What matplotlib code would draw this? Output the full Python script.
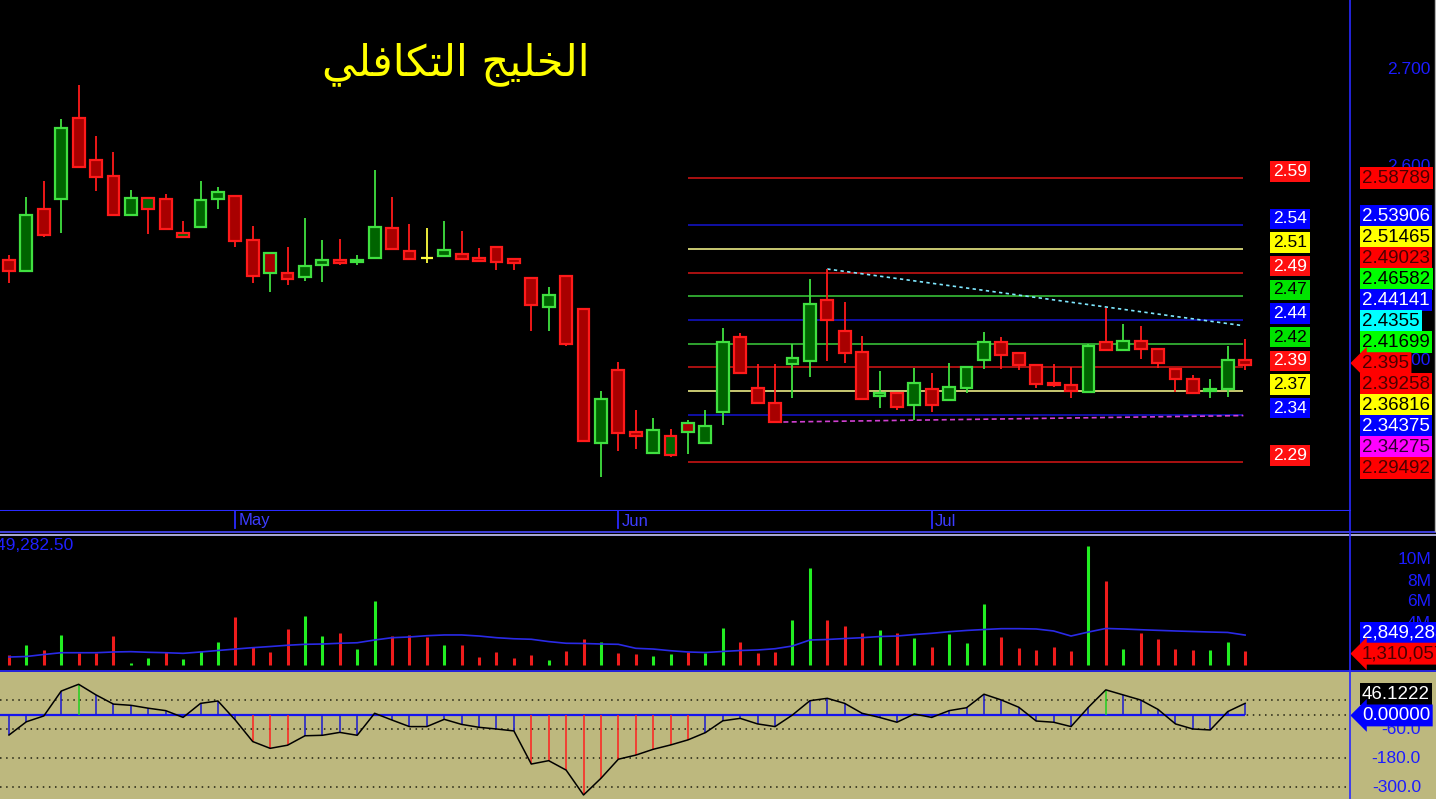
import numpy as np
import matplotlib
matplotlib.use('Agg')
import matplotlib.pyplot as plt
from matplotlib.lines import Line2D
from matplotlib.transforms import blended_transform_factory as blend

plt.rcParams['font.family'] = ['Liberation Sans', 'DejaVu Sans']

# ---- values (72 daily bars) ----
opens = [2.503, 2.492, 2.556, 2.566, 2.650, 2.607, 2.590, 2.550, 2.556, 2.566,
         2.527, 2.537, 2.566, 2.569, 2.524, 2.511, 2.490, 2.486, 2.498, 2.503,
         2.501, 2.505, 2.536, 2.513, 2.505, 2.507, 2.510, 2.505, 2.517, 2.504,
         2.485, 2.455, 2.487, 2.453, 2.314, 2.390, 2.326, 2.304, 2.302, 2.335,
         2.314, 2.346, 2.424, 2.371, 2.356, 2.396, 2.399, 2.462, 2.430, 2.408,
         2.363, 2.366, 2.354, 2.370, 2.359, 2.371, 2.400, 2.419, 2.407, 2.395,
         2.376, 2.374, 2.367, 2.419, 2.410, 2.420, 2.411, 2.391, 2.381, 2.368,
         2.370, 2.400]
highs = [2.508, 2.568, 2.585, 2.649, 2.684, 2.631, 2.615, 2.576, 2.567, 2.571,
         2.544, 2.585, 2.579, 2.569, 2.538, 2.511, 2.517, 2.547, 2.524, 2.525,
         2.508, 2.596, 2.568, 2.540, 2.536, 2.544, 2.533, 2.516, 2.517, 2.504,
         2.485, 2.475, 2.487, 2.453, 2.368, 2.398, 2.349, 2.340, 2.329, 2.338,
         2.349, 2.433, 2.428, 2.396, 2.396, 2.417, 2.484, 2.494, 2.460, 2.425,
         2.389, 2.366, 2.392, 2.387, 2.397, 2.393, 2.429, 2.424, 2.407, 2.395,
         2.396, 2.393, 2.417, 2.454, 2.437, 2.435, 2.411, 2.391, 2.385, 2.380,
         2.415, 2.422]
lows = [2.480, 2.492, 2.527, 2.531, 2.599, 2.574, 2.550, 2.550, 2.530, 2.535,
        2.527, 2.537, 2.556, 2.517, 2.480, 2.470, 2.478, 2.482, 2.481, 2.498,
        2.498, 2.505, 2.514, 2.504, 2.500, 2.507, 2.504, 2.502, 2.493, 2.493,
        2.430, 2.430, 2.415, 2.316, 2.279, 2.306, 2.308, 2.304, 2.300, 2.303,
        2.314, 2.333, 2.387, 2.356, 2.336, 2.361, 2.383, 2.399, 2.397, 2.360,
        2.351, 2.349, 2.338, 2.346, 2.359, 2.366, 2.391, 2.391, 2.390, 2.371,
        2.372, 2.361, 2.367, 2.410, 2.410, 2.401, 2.392, 2.367, 2.366, 2.361,
        2.362, 2.390]
closes = [2.492, 2.550, 2.529, 2.640, 2.599, 2.589, 2.550, 2.567, 2.567, 2.535,
          2.531, 2.565, 2.573, 2.523, 2.487, 2.490, 2.484, 2.497, 2.503, 2.500,
          2.503, 2.537, 2.515, 2.504, 2.505, 2.514, 2.504, 2.502, 2.501, 2.500,
          2.457, 2.467, 2.417, 2.316, 2.360, 2.325, 2.322, 2.328, 2.322, 2.326,
          2.332, 2.419, 2.387, 2.356, 2.336, 2.402, 2.458, 2.441, 2.407, 2.360,
          2.366, 2.352, 2.376, 2.354, 2.372, 2.393, 2.419, 2.405, 2.395, 2.375,
          2.374, 2.368, 2.415, 2.410, 2.420, 2.411, 2.397, 2.381, 2.366, 2.370,
          2.400, 2.395]
# volume in millions of shares and its moving average
volume_m = [0.95, 1.90, 1.43, 2.86, 1.17, 1.11, 2.79, 0.22, 0.70, 1.27,
            0.60, 1.36, 2.19, 4.54, 1.74, 1.27, 3.40, 4.67, 2.76, 3.08,
            1.55, 6.12, 2.79, 2.86, 2.64, 1.90, 1.90, 0.79, 1.27, 0.70,
            0.95, 0.48, 1.36, 2.50, 2.19, 1.17, 1.05, 0.86, 1.05, 1.24,
            1.11, 3.52, 2.22, 1.11, 1.24, 4.29, 9.24, 4.29, 3.71, 3.02,
            3.33, 3.08, 2.60, 1.74, 2.95, 2.12, 5.81, 2.70, 1.65, 1.43,
            1.74, 1.36, 11.36, 8.03, 1.52, 3.08, 2.50, 1.55, 1.43, 1.43,
            2.19, 1.31]
volume_ma_m = [0.76, 0.81, 1.00, 1.17, 1.17, 1.17, 1.24, 1.27, 1.21, 1.17,
               1.11, 1.24, 1.38, 1.52, 1.65, 1.76, 1.88, 1.97, 2.00, 2.07,
               2.12, 2.38, 2.60, 2.67, 2.79, 2.86, 2.86, 2.76, 2.60, 2.50,
               2.45, 2.23, 2.07, 2.05, 2.00, 1.97, 1.59, 1.52, 1.36, 1.24,
               1.19, 1.29, 1.38, 1.43, 1.55, 1.81, 2.38, 2.43, 2.52, 2.60,
               2.71, 2.76, 2.90, 3.02, 3.17, 3.29, 3.38, 3.46, 3.46, 3.43,
               3.24, 2.76, 3.14, 3.48, 3.43, 3.36, 3.30, 3.24, 3.19, 3.14,
               3.10, 2.85]
# oscillator (CCI style)
osc = [-85, -30, -6, 97, 125, 81, 43, 38, 26, 16,
       -12, 46, 56, -23, -112, -140, -127, -88, -86, -74,
       -86, 5, -23, -50, -50, -20, -41, -53, -60, -68,
       -205, -191, -230, -333, -264, -185, -168, -144, -126, -105,
       -75, -26, -16, -39, -50, -2, 57, 67, 46, 5,
       -12, -32, 2, -12, 16, 28, 84, 60, 30, -27,
       -32, -50, 30, 102, 81, 60, 21, -39, -60, -64,
       12, 46.1222]

month_names = ['May', 'Jun', 'Jul']
month_start = [13, 35, 53]

fib_levels = [2.58789, 2.53906, 2.51465, 2.49023, 2.46582, 2.44141,
              2.41699, 2.39258, 2.36816, 2.34375, 2.29492]
fib_short = ['2.59', '2.54', '2.51', '2.49', '2.47', '2.44',
             '2.42', '2.39', '2.37', '2.34', '2.29']
fib_start = 39
trend_start = 47          # bar of the high the falling line starts from
trend_end = 2.4355
support_start = 44        # bar of the low the rising line starts from
support_end = 2.34275
volume_ma_text = '2,849,282.50'
volume_ma_last = '2,849,283'
volume_last = '1,310,057'

title = '\uFEF2\uFEE0\uFED3\uFE8E\uFEDC\uFE98\uFEDF\uFE8D \uFE9E\uFEF4\uFEE0\uFEA8\uFEDF\uFE8D'  # الخليج التكافلي (shaped)

# ---- styles ----
RED_L, BLUE_L, YEL_L, GRN_L = '#d81515', '#1414d2', '#ffff90', '#3ccf3c'
fib_colors = [RED_L, BLUE_L, YEL_L, RED_L, GRN_L, BLUE_L, GRN_L, RED_L, YEL_L, BLUE_L, RED_L]
BOX = {RED_L: ('#ff1010', 'white'), BLUE_L: ('#0000ff', 'white'),
       YEL_L: ('#ffff00', 'black'), GRN_L: ('#00e400', 'black')}
RBOX = {RED_L: ('#ff0000', '#4a0000'), BLUE_L: ('#0000ff', 'white'),
        YEL_L: ('#ffff00', 'black'), GRN_L: ('#00ff00', 'black')}
AXBLUE = '#1c1cff'

W, H = 1436, 799
X0, DX = 9.0, 17.41                   # first bar pixel, bar spacing
PY, PP = 69.4, 969.0                  # pixel of 2.700, pixels per 1.0 of price
n = len(closes)
x = np.arange(n)
o, h, l, c = map(np.array, (opens, highs, lows, closes))
xlim = (-X0 / DX, (W - X0) / DX)
sep = (1349 - X0) / DX
fib_end = n - 1 - 0.1

fig = plt.figure(figsize=(W / 100, H / 100), dpi=100, facecolor='black')


def panel(top, bottom, bg):
    ax = fig.add_axes([0, 1 - bottom / H, 1, (bottom - top) / H])
    ax.set_facecolor(bg)
    ax.set_xlim(xlim)
    ax.set_xticks([])
    ax.set_yticks([])
    for s in ax.spines.values():
        s.set_visible(False)
    return ax


ax_p = panel(0, 511, 'black')
ax_v = panel(535, 668, 'black')
ax_o = panel(670, 799, '#bdb87e')
ax_p.set_ylim(2.7 - (511 - PY) / PP, 2.7 + PY / PP)
VPX = 10.5
ax_v.set_ylim(-3 / VPX, 130 / VPX)
OPX = 0.2417
ax_o.set_ylim(-(799 - 714.5) / OPX, (714.5 - 670) / OPX)


def stack(vals, gap):
    # spread right-hand labels so that none overlap, clusters centred on their values
    vals = list(vals)
    groups = [[i] for i in np.argsort(vals)[::-1]]

    def pos(g):
        m = np.mean([vals[i] for i in g])
        return [m + (len(g) - 1) / 2 * gap - k * gap for k in range(len(g))]
    merged = True
    while merged:
        merged = False
        for j in range(len(groups) - 1):
            if pos(groups[j])[-1] - pos(groups[j + 1])[0] < gap:
                groups[j] = groups[j] + groups.pop(j + 1)
                merged = True
                break
    out = np.zeros(len(vals))
    for g in groups:
        for i, p in zip(g, pos(g)):
            out[i] = p
    return out


def right_labels(ax, vals, texts, styles, gap, fs=13.5, shift=0.0):
    tr = blend(fig.transFigure, ax.transData)
    for y, t, (bg, fg, shape) in zip(stack(vals, gap), texts, styles):
        ax.text(1362 / W, y + shift, t, transform=tr, ha='left', va='center', fontsize=fs,
                color=fg, zorder=8,
                bbox=dict(boxstyle=shape + ',pad=0.13', fc=bg, ec='none'))


# ---- price panel ----
fill = np.where(c > o, '#006400', '#a80000')
edge = np.array(['#ff1a1a'] + ['#40e040' if c[i] > c[i - 1] else '#ff1a1a' for i in range(1, n)])
doji = c == o
fill[doji] = '#ffff40'
edge[doji] = '#ffff40'

ax_p.hlines(fib_levels, fib_start, fib_end, colors=fib_colors, lw=1.1, zorder=2)
ax_p.plot([trend_start, fib_end], [h[trend_start], trend_end], color='#7fe8ff',
          lw=1.2, ls=(0, (2, 2)), zorder=2)
ax_p.plot([support_start, fib_end], [l[support_start], support_end], color='#d040d0',
          lw=1.2, ls=(0, (3, 2)), zorder=2)
ax_p.vlines(x, l, h, colors=edge, lw=1.3, zorder=3)
ax_p.bar(x, np.abs(c - o), bottom=np.minimum(o, c), width=0.68, color=fill,
         edgecolor=edge, linewidth=1.6, zorder=4)
ax_p.axhline(ax_p.get_ylim()[0], xmax=1349 / W, color='#2a2aff', lw=2.2)

tp = blend(fig.transFigure, ax_p.transData)
for lv, s, col in zip(fib_levels, fib_short, fib_colors):
    bg, fg = BOX[col]
    ax_p.text(1290 / W, lv + 6.5 / PP, s, transform=tp, ha='center', va='center',
              fontsize=12.5, color=fg, zorder=8,
              bbox=dict(boxstyle='square,pad=0.16', fc=bg, ec='none'))

for v in np.arange(2.3, 2.75, 0.1):
    ax_p.text(1431 / W, v, '%.3f' % v, transform=tp, ha='right', va='center',
              fontsize=12.5, color=AXBLUE, zorder=5)

pv = fib_levels[:6] + [trend_end] + fib_levels[6:7] + [c[-1]] + fib_levels[7:10] + [support_end] + fib_levels[10:]
pt = [str(v) for v in fib_levels[:6]] + [str(trend_end), str(fib_levels[6]), '%.3f' % c[-1]] \
    + [str(v) for v in fib_levels[7:10]] + [str(support_end), str(fib_levels[10])]
lc = fib_colors
ps = [RBOX[k] + ('square',) for k in lc[:6]] + [('#00ffff', 'black', 'square')] \
    + [RBOX[lc[6]] + ('square',), RBOX[RED_L] + ('larrow',)] \
    + [RBOX[k] + ('square',) for k in lc[7:10]] + [('#ff00ff', '#300030', 'square'), RBOX[lc[10]] + ('square',)]
right_labels(ax_p, pv, pt, ps, 21 / PP)

fig.text(456 / W, 1 - 64 / H, title, ha='center', va='center', color='#ffff00',
         fontsize=31, family=['DejaVu Sans'])

tb = blend(ax_p.transData, fig.transFigure)
for m, i in zip(month_names, month_start):
    ax_p.plot([i, i], [1 - 511 / H, 1 - 528 / H], transform=tb, color='#2a2aff', lw=1.3, clip_on=False)
    fig.text((X0 + DX * i + 3) / W, 1 - 521 / H, m, ha='left', va='center',
             fontsize=12, color='#3c3cff')

# ---- volume panel ----
vcol = np.where(c > o, '#22ee22', '#ee1c1c')
ax_v.vlines(x, 0, volume_m, colors=vcol, lw=2.2, zorder=3)
ax_v.plot(x, volume_ma_m, color='#2a2ae6', lw=1.2, zorder=4)
tv = blend(fig.transFigure, ax_v.transData)
for v in [4, 6, 8, 10]:
    ax_v.text(1431 / W, v, '%dM' % v, transform=tv, ha='right', va='center',
              fontsize=12.5, color=AXBLUE, zorder=5)
right_labels(ax_v, [volume_ma_m[-1], volume_m[-1]], [volume_ma_last, volume_last],
             [('#0000ff', 'white', 'square'), ('#ff0000', '#4a0000', 'larrow')], 21 / VPX)
fig.text(73 / W, 1 - 545 / H, volume_ma_text, ha='right', va='center', fontsize=12.5, color='#2020ff')

# ---- oscillator panel ----
for g in [60, 0, -60, -180, -300]:
    ax_o.hlines(g, xlim[0], sep, colors='#202010', lw=1.1, linestyles=(0, (1, 3)), zorder=1)
ax_o.hlines(0, xlim[0], x[-1], colors='#1515ee', lw=1.6, zorder=2)
ocol = ['#20d020' if v > 100 else '#ff2020' if v < -100 else '#1a1ad0' for v in osc]
ax_o.vlines(x, 0, osc, colors=ocol, lw=1.1, zorder=3)
ax_o.plot(x, osc, color='black', lw=1.1, zorder=4)
to = blend(fig.transFigure, ax_o.transData)
for g in [60, -60, -180, -300]:
    ax_o.text(1421 / W, g, '%.1f' % g, transform=to, ha='right', va='center',
              fontsize=12.5, color=AXBLUE, zorder=5)
right_labels(ax_o, [osc[-1], 0.0], ['%.4f' % osc[-1], '%.5f' % 0],
             [('black', 'white', 'square'), ('#0000ff', 'white', 'larrow')], 21 / OPX,
             shift=4 / OPX)

# ---- frame lines ----
for yy, col, lw in [(532, '#4a4aff', 1.2), (534.5, '#c8c8ff', 1.2), (670.5, '#2020dd', 1.4)]:
    fig.add_artist(Line2D([0, 1], [1 - yy / H] * 2, color=col, lw=lw))
fig.add_artist(Line2D([1349.5 / W] * 2, [0, 1], color='#2a2aff', lw=1.2))
fig.add_artist(Line2D([1434.5 / W] * 2, [1 - 531 / H, 1], color='#b0b0b0', lw=1))

fig.savefig('out.png', dpi=100, facecolor='black')
